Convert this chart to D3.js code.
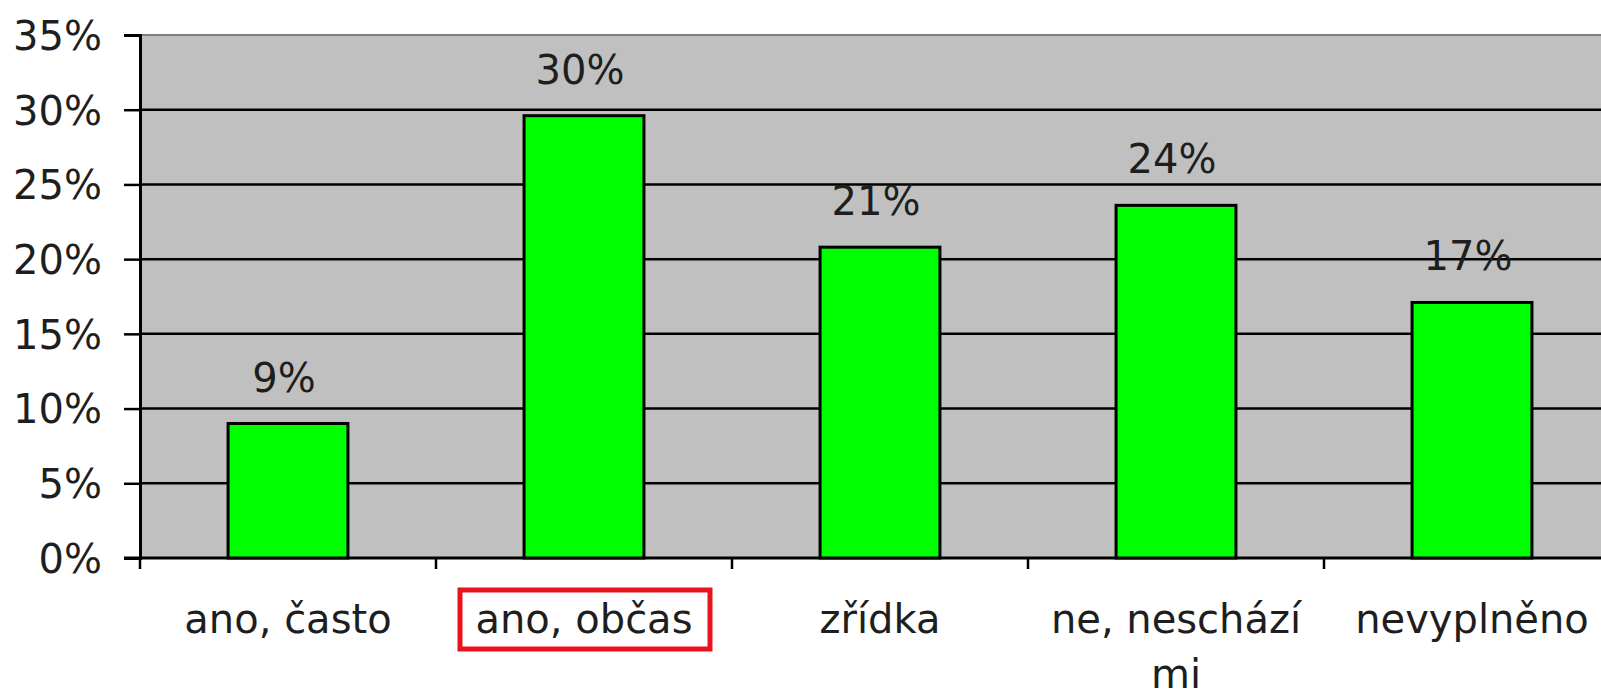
<!DOCTYPE html>
<html>
<head>
<meta charset="utf-8">
<script src="https://cdn.jsdelivr.net/npm/d3@7"></script>
<style>
  body { margin: 0; background: #fff; }
  text { font-family: "DejaVu Sans", sans-serif; fill: #1e1e1e; }
</style>
</head>
<body>
<svg id="chart" width="1601" height="691"></svg>
<script>
const categories = [['ano, často'], ['ano, občas'], ['zřídka'], ['ne, neschází', 'mi'], ['nevyplněno']];
const values = [9.0, 29.6, 20.8, 23.6, 17.1];
const valueLabels = ['9%', '30%', '21%', '24%', '17%'];
const yTicks = [0, 5, 10, 15, 20, 25, 30, 35];
const highlighted = 1;

const svg = d3.select('#chart');
const plotLeft = 140, plotTop = 35, plotBottom = 558;
const step = 296;

/* scales */
const x = d3.scaleBand()
  .domain(d3.range(categories.length))
  .range([plotLeft, plotLeft + step * categories.length])
  .paddingInner(0.595)
  .paddingOuter(0.2975);
const y = d3.scaleLinear().domain([0, 35]).range([plotBottom, plotTop]);

/* plot background */
svg.append('rect')
  .attr('x', plotLeft).attr('y', plotTop)
  .attr('width', 1601 - plotLeft).attr('height', plotBottom - plotTop)
  .attr('fill', '#c0c0c0');
svg.append('line')
  .attr('x1', plotLeft).attr('x2', 1601)
  .attr('y1', plotTop).attr('y2', plotTop)
  .attr('stroke', '#808080').attr('stroke-width', 2);

/* gridlines */
svg.selectAll('.grid')
  .data(yTicks.filter((d) => d > 0 && d < 35))
  .enter().append('line')
  .attr('x1', plotLeft).attr('x2', 1601)
  .attr('y1', (d) => y(d)).attr('y2', (d) => y(d))
  .attr('stroke', '#000').attr('stroke-width', 2.5);

/* y axis */
const yAxis = svg.append('g')
  .attr('transform', `translate(${plotLeft},0)`)
  .call(d3.axisLeft(y).tickValues(yTicks).tickSize(16).tickPadding(22).tickFormat((d) => d + '%'));
yAxis.select('.domain').attr('stroke', '#000').attr('stroke-width', 3);
yAxis.selectAll('.tick line').attr('stroke', '#000').attr('stroke-width', 2.5);
yAxis.selectAll('.tick text')
  .attr('font-size', 40).attr('dy', '0.36em')
  .style('font-family', '"DejaVu Sans", sans-serif').attr('fill', '#1e1e1e');

/* x axis line and category ticks */
svg.append('line')
  .attr('x1', plotLeft - 16).attr('x2', 1601)
  .attr('y1', plotBottom).attr('y2', plotBottom)
  .attr('stroke', '#000').attr('stroke-width', 3);
svg.selectAll('.xtick')
  .data(d3.range(categories.length + 1))
  .enter().append('line')
  .attr('x1', (i) => plotLeft + i * step).attr('x2', (i) => plotLeft + i * step)
  .attr('y1', plotBottom).attr('y2', plotBottom + 11)
  .attr('stroke', '#000').attr('stroke-width', 2.5);

/* bars */
svg.selectAll('.bar')
  .data(values)
  .enter().append('rect')
  .attr('x', (d, i) => x(i))
  .attr('y', (d) => y(d))
  .attr('width', x.bandwidth())
  .attr('height', (d) => y(0) - y(d))
  .attr('fill', '#00ff00')
  .attr('stroke', '#000').attr('stroke-width', 3);

/* value labels */
svg.selectAll('.vlabel')
  .data(values)
  .enter().append('text')
  .attr('x', (d, i) => x(i) + x.bandwidth() / 2 - 4)
  .attr('y', (d) => y(d) - 32)
  .attr('text-anchor', 'middle')
  .attr('font-size', 40)
  .text((d, i) => valueLabels[i]);

/* category labels */
const cat = svg.selectAll('.cat')
  .data(categories)
  .enter().append('text')
  .attr('text-anchor', 'middle')
  .attr('font-size', 40)
  .attr('y', 633);
cat.selectAll('tspan')
  .data((d, i) => d.map((t) => ({ t, i })))
  .enter().append('tspan')
  .attr('x', (d) => x(d.i) + x.bandwidth() / 2)
  .attr('dy', (d, j) => (j ? 55 : 0))
  .text((d) => d.t);

/* red box around highlighted category */
const hx = x(highlighted) + x.bandwidth() / 2;
svg.append('rect')
  .attr('x', hx - 124).attr('y', 590)
  .attr('width', 250).attr('height', 59)
  .attr('fill', 'none')
  .attr('stroke', '#e8141c').attr('stroke-width', 5);
</script>
</body>
</html>
